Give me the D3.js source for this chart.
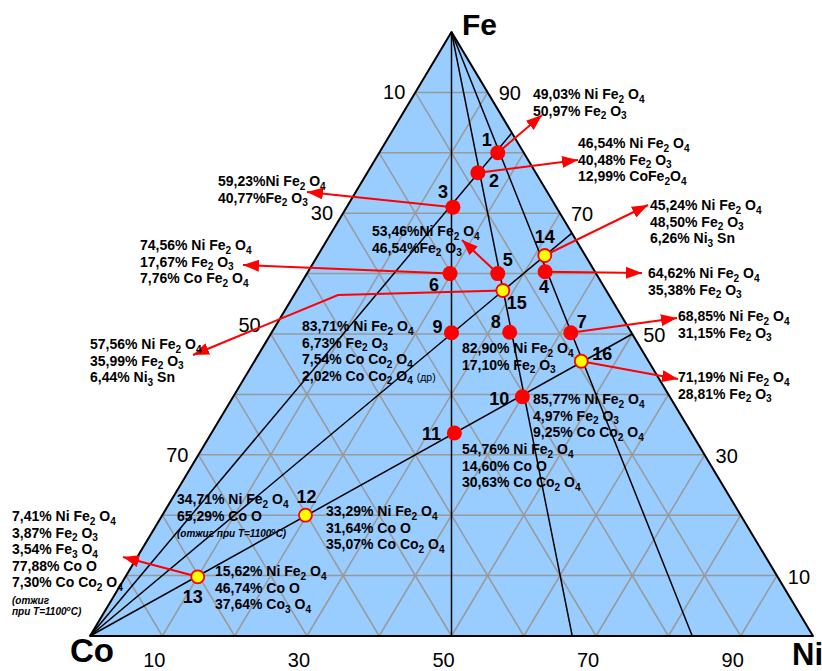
<!DOCTYPE html>
<html lang="ru">
<head>
<meta charset="UTF-8">
<title>Co - Ni - Fe</title>
<script src="https://d3js.org/d3.v7.min.js"></script>
<style>
  body { margin: 0; background: #fff; }
  text { font-family: "Liberation Sans", Arial, sans-serif; }
</style>
</head>
<body>
<svg width="822" height="671"></svg>
<script>
const width = 822, height = 671;

// composition of each sample, % (Fe, Ni; Co = rest)
const pointIds = [1, 2, 3, 4, 5, 6, 7, 8, 9, 10, 11, 12, 13, 14, 15, 16];
const fePct = [80, 76.7, 71, 60.3, 60, 60, 50.2, 50.3, 50.2, 39.6, 33.6, 20, 9.8, 63, 57.2, 45.5];
const niPct = [16.4, 15.3, 14.7, 32.8, 26.4, 19.8, 41.4, 32.9, 24.9, 40, 33.6, 19.8, 10, 31.4, 28.5, 45.2];
const annealed = [false, false, false, false, false, false, false, false, false, false, false, true, true, true, true, true];

// section lines: from Fe apex (Ni share on Co-Ni side) and from Co (Fe share on Ni-Fe side)
const feRays = [50, 66.7, 83.3];
const coRays = [50, 66.7, 83.3];

const leftTicks = [10, 30, 50, 70];
const rightTicks = [90, 70, 50, 30, 10];
const bottomTicks = [10, 30, 50, 70, 90];

// phase composition text per sample (_n = subscript)
const callouts = [
  {id: 1, lines: ["49,03% Ni Fe_2 O_4", "50,97% Fe_2 O_3"]},
  {id: 2, lines: ["46,54% Ni Fe_2 O_4", "40,48% Fe_2 O_3", "12,99% CoFe_2O_4"]},
  {id: 3, lines: ["59,23%Ni Fe_2 O_4", "40,77%Fe_2 O_3"]},
  {id: 4, lines: ["64,62% Ni Fe_2 O_4", "35,38% Fe_2 O_3"]},
  {id: 5, lines: ["53,46%Ni Fe_2 O_4", "46,54%Fe_2 O_3"]},
  {id: 6, lines: ["74,56% Ni Fe_2 O_4", "17,67% Fe_2 O_3", "7,76% Co Fe_2 O_4"]},
  {id: 7, lines: ["68,85% Ni Fe_2 O_4", "31,15% Fe_2 O_3"]},
  {id: 8, lines: ["82,90% Ni Fe_2 O_4", "17,10% Fe_2 O_3"]},
  {id: 9, lines: ["83,71% Ni Fe_2 O_4", "6,73% Fe_2 O_3", "7,54% Co Co_2 O_4", "2,02% Co Co_2 O_4 {(др)}"]},
  {id: 10, lines: ["85,77% Ni Fe_2 O_4", "4,97% Fe_2 O_3", "9,25% Co Co_2 O_4"]},
  {id: 11, lines: ["54,76% Ni Fe_2 O_4", "14,60% Co O", "30,63% Co Co_2 O_4"]},
  {id: 12, lines: ["33,29% Ni Fe_2 O_4", "31,64% Co O", "35,07% Co Co_2 O_4"]},
  {id: 12, lines: ["34,71% Ni Fe_2 O_4", "65,29% Co O", "~(отжиг при T=1100^oC)"]},
  {id: 13, lines: ["15,62% Ni Fe_2 O_4", "46,74% Co O", "37,64% Co_3 O_4"]},
  {id: 13, lines: ["7,41% Ni Fe_2 O_4", "3,87% Fe_2 O_3", "3,54% Fe_3 O_4", "77,88% Co O", "7,30% Co Co_2 O_4", "~(отжиг", "~при T=1100^oC)"]},
  {id: 14, lines: ["45,24% Ni Fe_2 O_4", "48,50% Fe_2 O_3", "6,26% Ni_3 Sn"]},
  {id: 15, lines: ["57,56% Ni Fe_2 O_4", "35,99% Fe_2 O_3", "6,44% Ni_3 Sn"]},
  {id: 16, lines: ["71,19% Ni Fe_2 O_4", "28,81% Fe_2 O_3"]}
];

// where each callout sits and where its arrow points (null = no arrow)
const calloutLayout = [
  {x: 533, y: 99, tip: [542, 115]},
  {x: 578, y: 148, tip: [578, 160]},
  {x: 218, y: 186, tip: [307, 192]},
  {x: 648, y: 278, tip: [642, 273]},
  {x: 372, y: 236, tip: [462, 240]},
  {x: 140, y: 250, tip: [243, 265]},
  {x: 678, y: 321, tip: [677, 318]},
  {x: 462, y: 353, tip: null},
  {x: 302, y: 331, tip: null},
  {x: 533, y: 404, tip: null},
  {x: 462, y: 454, tip: null},
  {x: 326, y: 516, tip: null},
  {x: 177, y: 504, tip: null},
  {x: 215, y: 576, tip: null},
  {x: 12, y: 521, tip: [123, 557]},
  {x: 650, y: 210, tip: [648, 205]},
  {x: 90, y: 349, tip: [193, 355], via: [338, 295]},
  {x: 678, y: 382, tip: [678, 379]}
];

// number label offset from its marker
const numberOffset = {
  1: [-11, -7], 2: [16, 14], 3: [-10, -9], 4: [-1, 21], 5: [10, -8], 6: [-16, 17],
  7: [11, -5], 8: [-14, -4], 9: [-14, 0], 10: [-23, 8], 11: [-23, 7], 12: [1, -12],
  13: [-5, 26], 14: [0, -12], 15: [14, 18], 16: [21, -1]
};

const x = d3.scaleLinear().domain([0, 100]).range([90, 813]);
const y = d3.scaleLinear().domain([0, 100]).range([636, 32]);
const proj = (fe, ni) => [x(ni + fe / 2), y(fe)];

const svg = d3.select("svg");
const line = d3.line();

const defs = svg.append("defs");
defs.append("marker")
    .attr("id", "head")
    .attr("markerUnits", "userSpaceOnUse")
    .attr("viewBox", "0 0 16 12")
    .attr("refX", 16).attr("refY", 6)
    .attr("markerWidth", 16).attr("markerHeight", 12)
    .attr("orient", "auto")
  .append("path")
    .attr("d", "M0,0 L16,6 L0,12 Z")
    .attr("fill", "#ff0000");

// triangle body
const corners = [proj(0, 0), proj(0, 100), proj(100, 0)];
svg.append("path")
    .attr("d", line(corners) + "Z")
    .attr("fill", "#99ccff");

// 10% grid
const grid = [];
for (let k = 10; k < 100; k += 10) {
  grid.push([proj(k, 0), proj(k, 100 - k)]);
  grid.push([proj(0, k), proj(100 - k, k)]);
  grid.push([proj(0, 100 - k), proj(100 - k, 0)]);
}
svg.append("g").selectAll("path").data(grid).join("path")
    .attr("d", line)
    .attr("fill", "none")
    .attr("stroke", "#999999")
    .attr("stroke-width", 1.5);

// section lines
const rays = feRays.map(n => [proj(100, 0), proj(0, n)])
  .concat(coRays.map(f => [proj(0, 0), proj(f, 100 - f)]));
svg.append("g").selectAll("path").data(rays).join("path")
    .attr("d", line)
    .attr("fill", "none")
    .attr("stroke", "#000")
    .attr("stroke-width", 1.5);

svg.append("path")
    .attr("d", line(corners) + "Z")
    .attr("fill", "none")
    .attr("stroke", "#000")
    .attr("stroke-width", 2)
    .attr("stroke-linejoin", "round");

// tick labels
const ticks = svg.append("g").attr("font-size", 20);
leftTicks.forEach(c => {
  const p = proj(100 - c, 0);
  ticks.append("text")
      .attr("x", p[0] - 10).attr("y", c === 50 ? p[1] - 2 : p[1] + 7)
      .attr("text-anchor", "end").text(c);
});
rightTicks.forEach(f => {
  const p = proj(f, 100 - f);
  ticks.append("text")
      .attr("x", p[0] + 11).attr("y", p[1] + 8)
      .text(f);
});
bottomTicks.forEach(n => {
  const p = proj(0, n);
  ticks.append("text")
      .attr("x", p[0] - 8).attr("y", 667)
      .attr("text-anchor", "middle").text(n);
});

// element names
svg.append("text").attr("x", 462).attr("y", 35).attr("font-size", 30).attr("font-weight", "bold").text("Fe");
svg.append("text").attr("x", 70).attr("y", 662).attr("font-size", 33).attr("font-weight", "bold").text("Co");
svg.append("text").attr("x", 792).attr("y", 665).attr("font-size", 31).attr("font-weight", "bold").text("Ni");

// rich text: _d subscript, ^o superscript, {..} small plain
function richLine(sel, str, size) {
  const parts = str.split(/(_\d|\^o|\{[^}]*\})/).filter(s => s.length);
  let shift = 0;
  parts.forEach(s => {
    let t = s, fs = size, target = 0, weight = null;
    if (s[0] === "_") { t = s.slice(1); fs = size * 0.72; target = size * 0.28; }
    else if (s[0] === "^") { t = s.slice(1); fs = size * 0.7; target = -size * 0.4; }
    else if (s[0] === "{") { t = s.slice(1, -1); fs = size * 0.75; weight = "normal"; }
    const ts = sel.append("tspan").attr("font-size", fs).text(t);
    if (weight) ts.attr("font-weight", weight);
    if (target !== shift) { ts.attr("dy", target - shift); shift = target; }
  });
}

const byId = {};
pointIds.forEach((id, i) => { byId[id] = proj(fePct[i], niPct[i]); });

// arrows
const arrows = svg.append("g");
callouts.forEach((c, i) => {
  const L = calloutLayout[i];
  if (!L.tip) return;
  const pts = [byId[c.id]];
  if (L.via) pts.push(L.via);
  pts.push(L.tip);
  arrows.append("path")
      .attr("d", line(pts))
      .attr("fill", "none")
      .attr("stroke", "#ff0000")
      .attr("stroke-width", 2)
      .attr("marker-end", "url(#head)");
});

// markers
svg.append("g").selectAll("circle").data(pointIds).join("circle")
    .attr("cx", (d, i) => proj(fePct[i], niPct[i])[0])
    .attr("cy", (d, i) => proj(fePct[i], niPct[i])[1])
    .attr("r", (d, i) => annealed[i] ? 6.5 : 7.5)
    .attr("fill", (d, i) => annealed[i] ? "#ffff00" : "#ff0000")
    .attr("stroke", "#ff0000")
    .attr("stroke-width", (d, i) => annealed[i] ? 1.8 : 0);

// sample numbers
svg.append("g").selectAll("text").data(pointIds).join("text")
    .attr("x", (d, i) => proj(fePct[i], niPct[i])[0] + numberOffset[d][0])
    .attr("y", (d, i) => proj(fePct[i], niPct[i])[1] + numberOffset[d][1])
    .attr("text-anchor", "middle")
    .attr("font-size", 18)
    .attr("font-weight", "bold")
    .text(d => d);

// callout texts
const txt = svg.append("g").attr("font-weight", "bold").attr("fill", "#000");
callouts.forEach((c, i) => {
  const L = calloutLayout[i];
  let yy = L.y;
  c.lines.forEach(s => {
    const note = s[0] === "~";
    const t = txt.append("text").attr("x", L.x).attr("y", yy);
    if (note) {
      t.attr("font-style", "italic");
      richLine(t, s.slice(1), 10);
      yy += 11.5;
    } else {
      richLine(t, s, 14);
      yy += 16.5;
    }
  });
});
</script>
</body>
</html>
